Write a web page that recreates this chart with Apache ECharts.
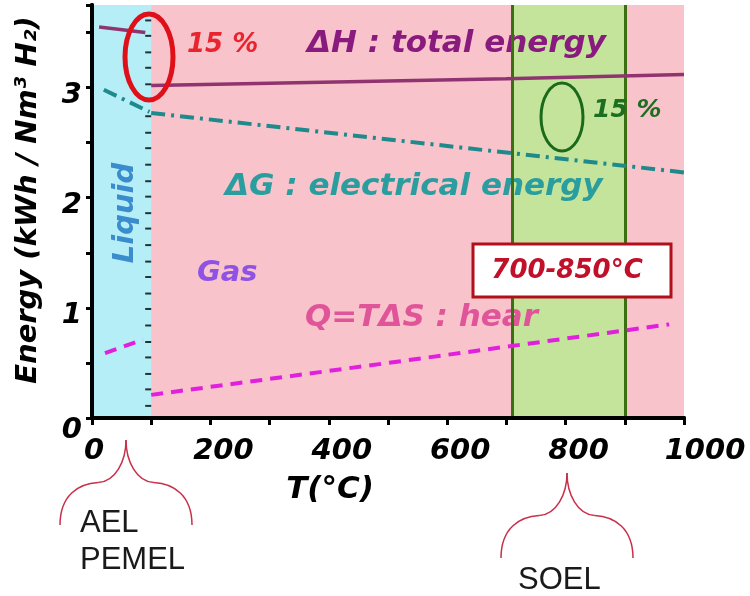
<!DOCTYPE html>
<html>
<head>
<meta charset="utf-8">
<script src="https://cdn.jsdelivr.net/npm/echarts@6/dist/echarts.min.js"></script>
<style>
html,body{margin:0;padding:0;background:#fff;}
#chart{width:750px;height:596px;}
</style>
</head>
<body>
<div id="chart"></div>
<script>
// ---- data ----
const xTickLabels = [0, 200, 400, 600, 800, 1000];
const yTickLabels = [0, 1, 2, 3];
const liquidRange = [0, 100];
const soelBand = [710, 900];
const dH_liquid = [[12, 3.55], [90, 3.50]];
const dH_gas = [[100, 3.02], [700, 3.08], [1000, 3.12]];
const dG_liquid = [[20, 2.98], [97, 2.78]];
const dG_gas = [[100, 2.77], [700, 2.41], [1000, 2.23]];
const Q_liquid = [[22, 0.59], [86, 0.71]];
const Q_gas = [[100, 0.21], [500, 0.50], [975, 0.85]];
const boundaryT = 100;
const boundaryTicks = [0.11, 0.26, 0.40, 0.55, 0.69, 0.84, 0.99, 1.13, 1.28, 1.42, 1.57, 1.72, 1.86,
  2.01, 2.15, 2.30, 2.45, 2.59, 2.74, 2.88, 3.03, 3.18, 3.32, 3.47, 3.61];

const FONT = 'DejaVu Sans';
const chart = echarts.init(document.getElementById('chart'), null, {renderer: 'canvas'});

function lineSeries(data, color, type, width) {
  return {
    type: 'line', data: data, xAxisIndex: 0, yAxisIndex: 0, z: 6,
    symbol: 'none', showSymbol: false, silent: true,
    lineStyle: {color: color, width: width, type: type}
  };
}
function txt(text, x, y, size, color, extra) {
  return Object.assign({
    type: 'text', x: x, y: y, z: 5,
    style: {text: text, fontFamily: FONT, fontSize: size, fontWeight: 'bold', fontStyle: 'italic',
      fill: color, align: 'left', verticalAlign: 'middle'}
  }, extra || {});
}
// curly brace (pointing up) made of 4 cubic curves; px,py = peak, w = half width, h = height
function brace(px, py, w, h) {
  const sy = py + h * 0.5, ey = py + h;
  const segs = [
    [px - w, ey, px - w * 0.42, sy, px - w, ey - h * 0.35, px - w * 0.72, sy + 1],
    [px - w * 0.42, sy, px, py, px - w * 0.16, sy - 1, px, sy - h * 0.25],
    [px, py, px + w * 0.42, sy, px, sy - h * 0.25, px + w * 0.16, sy - 1],
    [px + w * 0.42, sy, px + w, ey, px + w * 0.72, sy + 1, px + w, ey - h * 0.35]
  ];
  return segs.map(s => ({
    type: 'bezierCurve', z: 20,
    shape: {x1: s[0], y1: s[1], x2: s[2], y2: s[3], cpx1: s[4], cpy1: s[5], cpx2: s[6], cpy2: s[7]},
    style: {fill: 'none', stroke: '#C8304A', lineWidth: 1.5}
  }));
}
const labelFont = {fontFamily: FONT, fontSize: 29, fontWeight: 'bold', fontStyle: 'italic', color: '#000'};

const option = {
  animation: false,
  backgroundColor: '#ffffff',
  grid: {left: 92, right: 66, top: 5, bottom: 178, show: true, backgroundColor: '#F9C3CB', borderWidth: 0},
  xAxis: [{
    type: 'value', min: 0, max: 1000, interval: 100, position: 'bottom', z: 8,
    axisLine: {show: true, lineStyle: {color: '#000', width: 4}},
    axisTick: {show: true, length: 7, lineStyle: {color: '#000', width: 3}},
    splitLine: {show: false},
    axisLabel: Object.assign({show: true, margin: 19, padding: [0, 0, 0, 26],
      rich: {
        z: Object.assign({padding: [0, 22, 0, 0]}, labelFont),
        r: Object.assign({padding: [0, 0, 0, 16]}, labelFont)
      },
      formatter: v => v === 0 ? '{z|0}' : (v === 1000 ? '{r|1000}' : (xTickLabels.indexOf(v) >= 0 ? String(v) : ''))
    }, labelFont)
  }, {
    type: 'value', min: 0, max: 1000, position: 'top', z: 8,
    axisLine: {show: true, lineStyle: {color: '#000', width: 4}},
    axisTick: {show: false}, axisLabel: {show: false}, splitLine: {show: false}
  }],
  yAxis: [{
    type: 'value', min: 0, max: 3.75, interval: 0.5, position: 'left', z: 8,
    axisLine: {show: true, lineStyle: {color: '#000', width: 4}},
    axisTick: {show: true, length: 6, lineStyle: {color: '#000', width: 3}},
    splitLine: {show: false},
    axisLabel: Object.assign({show: true, margin: 10,
      rich: {
        a: Object.assign({padding: [16, 0, 0, 0]}, labelFont),
        b: Object.assign({padding: [24, 0, 0, 0]}, labelFont)
      },
      formatter: v => v === 0 ? '{b|0}' : (yTickLabels.indexOf(v) >= 0 ? '{a|' + v + '}' : '')
    }, labelFont)
  }, {
    type: 'value', min: 0, max: 3.75, position: 'right', z: 8,
    axisLine: {show: true, lineStyle: {color: '#000', width: 4}},
    axisTick: {show: false}, axisLabel: {show: false}, splitLine: {show: false}
  }],
  series: [
    {
      type: 'line', data: [], z: 1, silent: true, xAxisIndex: 0, yAxisIndex: 0,
      markArea: {silent: true, itemStyle: {color: '#B6EEF8'},
        data: [[{xAxis: liquidRange[0]}, {xAxis: liquidRange[1]}]]}
    },
    {
      type: 'scatter', z: 7, silent: true, xAxisIndex: 0, yAxisIndex: 0,
      data: boundaryTicks.map(v => [boundaryT, v]),
      symbol: 'rect', symbolSize: [6, 2], symbolOffset: [-3, 0],
      itemStyle: {color: '#000'}
    },
    lineSeries(dH_liquid, '#8f3470', 'solid', 3.5),
    lineSeries(dH_gas, '#8f3470', 'solid', 3.5),
    lineSeries(dG_liquid, '#1e8a8c', [14, 6, 3, 6], 4),
    lineSeries(dG_gas, '#1e8a8c', [14, 6, 3, 6], 4),
    lineSeries(Q_liquid, '#E020DC', [12, 8], 4),
    lineSeries(Q_gas, '#E020DC', [12, 8], 4),
    {
      type: 'line', data: [], z: 10, silent: true, xAxisIndex: 0, yAxisIndex: 0,
      markArea: {silent: true, itemStyle: {color: 'rgba(160,250,125,0.6)'},
        data: [[{xAxis: soelBand[0]}, {xAxis: soelBand[1]}]]},
      markLine: {silent: true, symbol: 'none', label: {show: false},
        lineStyle: {color: '#3a7012', width: 3, type: 'solid'},
        data: [{xAxis: soelBand[0]}, {xAxis: soelBand[1]}]}
    }
  ],
  graphic: [
    txt('15 %', 187, 45, 26, '#E8252F', {z: 20}),
    {type: 'ellipse', z: 20, shape: {cx: 149, cy: 57, rx: 24, ry: 43},
      style: {fill: 'none', stroke: '#E0101A', lineWidth: 5}},
    txt('ΔH : total energy', 307, 44, 31, '#8a1b7e'),
    txt('ΔG : electrical energy', 225, 187, 31, '#2a9d9e'),
    {type: 'text', z: 5, x: 125, y: 213, rotation: Math.PI / 2,
      style: {text: 'Liquid', fontFamily: FONT, fontSize: 29, fontWeight: 'bold', fontStyle: 'italic',
        fill: '#3a8ccc', align: 'center', verticalAlign: 'middle'}},
    txt('Gas', 197, 273, 29, '#8e52e6'),
    txt('Q=TΔS : hear', 305, 318, 31, '#e0559a'),
    {type: 'ellipse', z: 20, shape: {cx: 562, cy: 117, rx: 21, ry: 34},
      style: {fill: 'none', stroke: '#1a6a1a', lineWidth: 3}},
    txt('15 %', 593, 110, 25, '#1c6e20', {z: 20}),
    {type: 'rect', z: 20, shape: {x: 473, y: 244, width: 198, height: 53},
      style: {fill: '#ffffff', stroke: '#B0101C', lineWidth: 3}},
    {type: 'text', z: 21, x: 567, y: 271,
      style: {text: '700-850°C', fontFamily: FONT, fontSize: 26, fontWeight: 'bold', fontStyle: 'italic',
        fill: '#C0102A', align: 'center', verticalAlign: 'middle'}},
    {type: 'text', z: 20, x: 28, y: 200, rotation: Math.PI / 2,
      style: {text: 'Energy (kWh / Nm³ H₂)', fontFamily: FONT, fontSize: 29, fontWeight: 'bold', fontStyle: 'italic',
        fill: '#000', align: 'center', verticalAlign: 'middle'}},
    {type: 'text', z: 20, x: 330, y: 490,
      style: {text: 'T(°C)', fontFamily: FONT, fontSize: 31, fontWeight: 'bold', fontStyle: 'italic',
        fill: '#000', align: 'center', verticalAlign: 'middle'}},
    {type: 'text', z: 20, x: 80, y: 523,
      style: {text: 'AEL', fontFamily: 'Liberation Sans', fontSize: 31, fill: '#1a1a1a', align: 'left', verticalAlign: 'middle'}},
    {type: 'text', z: 20, x: 80, y: 560,
      style: {text: 'PEMEL', fontFamily: 'Liberation Sans', fontSize: 31, fill: '#1a1a1a', align: 'left', verticalAlign: 'middle'}},
    {type: 'text', z: 20, x: 518, y: 580,
      style: {text: 'SOEL', fontFamily: 'Liberation Sans', fontSize: 31, fill: '#1a1a1a', align: 'left', verticalAlign: 'middle'}}
  ].concat(brace(126, 440, 66, 85), brace(567, 473, 66, 85))
};
chart.setOption(option);
</script>
</body>
</html>
